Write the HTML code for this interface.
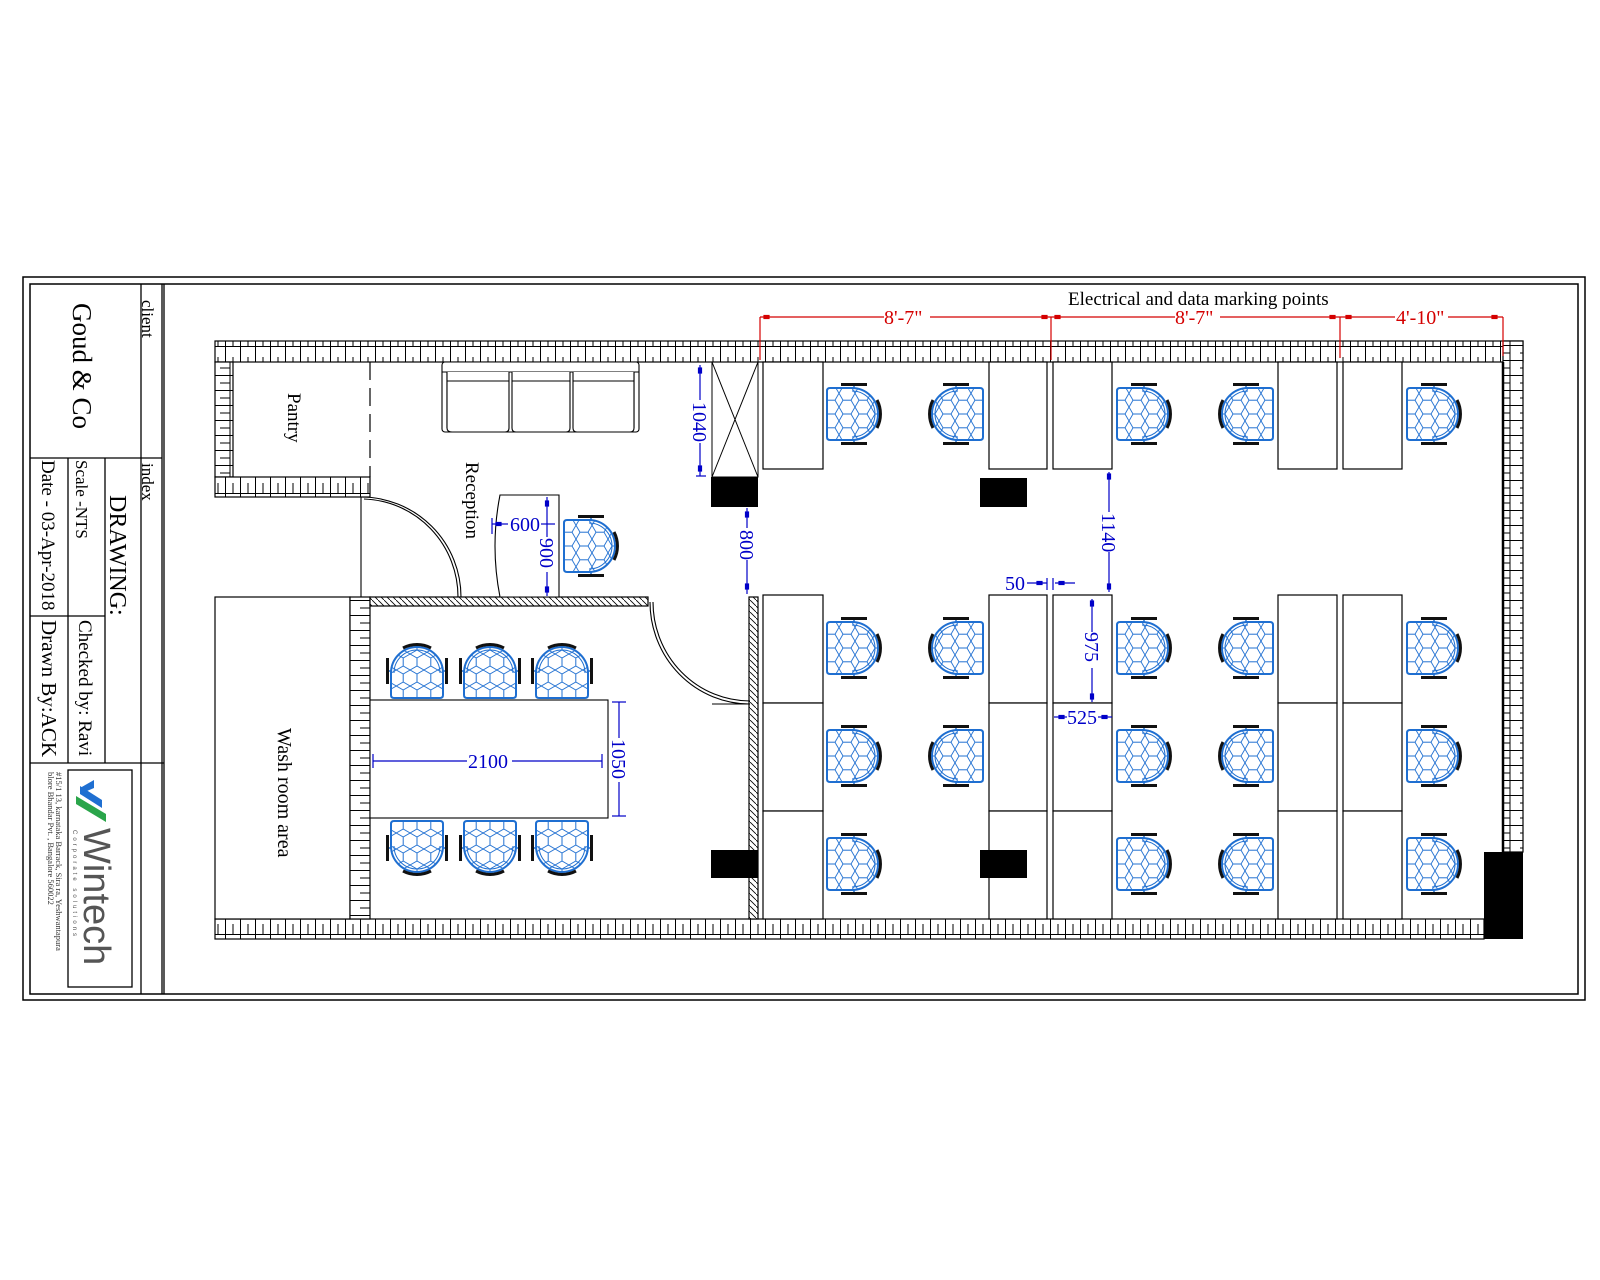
<!DOCTYPE html>
<html><head><meta charset="utf-8"><style>
html,body{margin:0;padding:0;background:#fff;}
svg{display:block;}
text{font-family:"Liberation Serif",serif;}
</style></head><body>
<svg width="1600" height="1280" viewBox="0 0 1600 1280" xmlns="http://www.w3.org/2000/svg">
<defs>
<pattern id="brickH" width="15" height="21" patternUnits="userSpaceOnUse">
<rect width="15" height="21" fill="#fff"/>
<line x1="0.5" y1="0" x2="0.5" y2="21" stroke="#000" stroke-width="1"/>
<line x1="8" y1="0" x2="8" y2="10.5" stroke="#000" stroke-width="1"/>
<line x1="0" y1="10.5" x2="15" y2="10.5" stroke="#000" stroke-width="1"/>
</pattern>
<pattern id="brickV" width="20" height="15" patternUnits="userSpaceOnUse">
<rect width="20" height="15" fill="#fff"/>
<line x1="0" y1="0.5" x2="20" y2="0.5" stroke="#000" stroke-width="1"/>
<line x1="10" y1="0" x2="10" y2="15" stroke="#000" stroke-width="1"/>
<line x1="0" y1="8" x2="10" y2="8" stroke="#000" stroke-width="1"/>
</pattern>
<pattern id="hatch" width="6" height="6" patternUnits="userSpaceOnUse">
<rect width="6" height="6" fill="#fff"/>
<line x1="0" y1="0" x2="6" y2="6" stroke="#000" stroke-width="0.8"/>
</pattern>
<pattern id="hex" width="16" height="13.8" patternUnits="userSpaceOnUse">
<rect width="16" height="13.8" fill="#fff"/>
<path d="M0,6.9 L4,0 L12,0 L16,6.9 L12,13.8 L4,13.8 Z" fill="none" stroke="#1f6fd1" stroke-width="0.9"/>
</pattern>
<g id="chair">
<rect x="-14" y="-31" width="26" height="3" fill="#111"/>
<rect x="-14" y="28" width="26" height="3" fill="#111"/>
<line x1="-1" y1="-28" x2="-1" y2="-26" stroke="#1f6fd1" stroke-width="1.5"/>
<line x1="-1" y1="28" x2="-1" y2="26" stroke="#1f6fd1" stroke-width="1.5"/>
<path d="M-25,-26 H-3 A26 26 0 0 1 -3,26 H-25 Q-28,26 -28,23 V-23 Q-28,-26 -25,-26 Z" fill="url(#hex)" stroke="#1f6fd1" stroke-width="2"/>
<path d="M-3,-23 A23 23 0 0 1 -3,23" fill="none" stroke="#1f6fd1" stroke-width="1"/>
<path d="M22,-14 A30 30 0 0 1 22,14" fill="none" stroke="#111" stroke-width="3"/>
</g>
</defs>

<rect x="23" y="277" width="1562" height="723" fill="none" stroke="#000" stroke-width="1.5"/>
<rect x="30" y="284" width="1548" height="710" fill="none" stroke="#000" stroke-width="1.5"/>

<g stroke="#000" stroke-width="1.3" fill="none">
<line x1="141" y1="284" x2="141" y2="994"/>
<line x1="162" y1="284" x2="162" y2="994"/>
<line x1="164" y1="284" x2="164" y2="994"/>
<line x1="30" y1="458" x2="162" y2="458"/>
<line x1="68" y1="458" x2="68" y2="763"/>
<line x1="105" y1="458" x2="105" y2="763"/>
<line x1="30" y1="616" x2="105" y2="616"/>
<line x1="30" y1="763" x2="164" y2="763"/>
<rect x="68" y="770" width="64" height="217"/>
</g>
<g fill="#000">
<text transform="translate(142,300) rotate(90)" font-size="17">client</text>
<text transform="translate(142,463) rotate(90)" font-size="17">index</text>
<text transform="translate(73,303) rotate(90)" font-size="27">Goud &amp; Co</text>
<text transform="translate(110,495) rotate(90)" font-size="24">DRAWING:</text>
<text transform="translate(76,460) rotate(90)" font-size="17">Scale -NTS</text>
<text transform="translate(42,460) rotate(90)" font-size="19">Date - 03-Apr-2018</text>
<text transform="translate(79,620) rotate(90)" font-size="19">Checked by: Ravi</text>
<text transform="translate(42,620) rotate(90)" font-size="21">Drawn By:ACK</text>
<text transform="translate(56,772) rotate(90)" font-size="8.5" fill="#333">#15/1 13, karnataka Barrack, Sira ra, Yeshwantapura</text>
<text transform="translate(48,772) rotate(90)" font-size="8.5" fill="#333">blore Bhandar Pvt. , Bangalore 560022</text>
</g>
<g transform="translate(100,786) rotate(90)">
<path d="M0,20 L14,-2 L22,-2 L8,20 Z" fill="#1f6fd1"/>
<path d="M10,24 L28,-6 L36,-6 L18,24 Z" fill="#2aa54a"/>
<path d="M-6,6 L2,6 L8,20 L2,20 Z" fill="#1f6fd1"/>
<text x="42" y="16" font-size="38" fill="#555" style="font-family:'Liberation Sans',sans-serif">Wintech</text>
<text x="44" y="27" font-size="6" fill="#555" letter-spacing="3" style="font-family:'Liberation Sans',sans-serif">Corporate solutions</text>
</g>

<rect x="215" y="341" width="1308" height="21" fill="url(#brickH)" stroke="#000" stroke-width="1.2"/>
<rect x="215" y="362" width="18" height="115" fill="url(#brickV)" stroke="#000" stroke-width="1.2"/>
<rect x="215" y="477" width="155" height="20" fill="url(#brickH)" stroke="#000" stroke-width="1.2"/>
<rect x="215" y="919" width="1269" height="20" fill="url(#brickH)" stroke="#000" stroke-width="1.2"/>
<rect x="1503" y="341" width="20" height="511" fill="url(#brickV)" stroke="#000" stroke-width="1.2"/>
<line x1="1503" y1="362" x2="1503" y2="852" stroke="#000" stroke-width="2.5"/>
<rect x="1484" y="852" width="39" height="87" fill="#000"/>
<rect x="215" y="597" width="135" height="322" fill="#fff" stroke="#000" stroke-width="1.2"/>
<rect x="350" y="597" width="20" height="322" fill="url(#brickV)" stroke="#000" stroke-width="1.2"/>
<rect x="370" y="597" width="278" height="9" fill="url(#hatch)" stroke="#000" stroke-width="1.2"/>
<rect x="749" y="597" width="9" height="322" fill="url(#hatch)" stroke="#000" stroke-width="1.2"/>

<line x1="370" y1="362" x2="370" y2="477" stroke="#000" stroke-width="1.2" stroke-dasharray="18,8"/>
<text transform="translate(288,393) rotate(90)" font-size="19">Pantry</text>
<text transform="translate(278,728) rotate(90)" font-size="20">Wash room area</text>

<g stroke="#000" fill="none" stroke-width="1.1">
<line x1="361" y1="497" x2="361" y2="597"/>
<line x1="361" y1="597" x2="500" y2="597"/>
<path d="M361,497 A100 100 0 0 1 461,597"/>
<path d="M364,499 A97 98 0 0 1 458,597"/>
</g>

<g stroke="#000" fill="#fff" stroke-width="1.1">
<rect x="442" y="362" width="197" height="70" rx="3"/>
<line x1="442" y1="372" x2="639" y2="372"/>
<line x1="447" y1="372" x2="447" y2="428"/>
<line x1="634" y1="372" x2="634" y2="428"/>
<path d="M447,372 V428 Q447,432 452,432 H505 Q509,432 509,428 V372" />
<path d="M512,372 V428 Q512,432 516,432 H566 Q570,432 570,428 V372"/>
<path d="M573,372 V428 Q573,432 577,432 H630 Q634,432 634,428 V372"/>
<line x1="447" y1="381" x2="509" y2="381"/>
<line x1="512" y1="381" x2="570" y2="381"/>
<line x1="573" y1="381" x2="634" y2="381"/>
</g>
<text transform="translate(466,462) rotate(90)" font-size="19">Reception</text>

<path d="M500,495 H559 V597 H500 Q490,546 500,495 Z" fill="#fff" stroke="#000" stroke-width="1.1"/>

<g stroke="#000" stroke-width="1" fill="none">
<rect x="712" y="362" width="46" height="115"/>
<line x1="712" y1="362" x2="758" y2="477"/>
<line x1="758" y1="362" x2="712" y2="477"/>
</g>
<rect x="711" y="477" width="47" height="30" fill="#000"/>
<rect x="980" y="478" width="47" height="29" fill="#000"/>

<rect x="370" y="700" width="238" height="118" fill="#fff" stroke="#000" stroke-width="1.1"/>
<g stroke="#000" fill="none" stroke-width="1.1">
<path d="M650,602 A100 102 0 0 0 750,704"/>
<path d="M653,602 A97 99 0 0 0 750,701"/>
<line x1="712" y1="704" x2="750" y2="704"/>
</g>

<g stroke="#000" fill="#fff" stroke-width="1.2">
<rect x="763" y="362" width="60" height="107"/>
<rect x="989" y="362" width="58" height="107"/>
<rect x="1053" y="362" width="59" height="107"/>
<rect x="1278" y="362" width="59" height="107"/>
<rect x="1343" y="362" width="59" height="107"/>
<rect x="763" y="595" width="60" height="108"/><rect x="763" y="703" width="60" height="108"/><rect x="763" y="811" width="60" height="108"/>
<rect x="989" y="595" width="58" height="108"/><rect x="989" y="703" width="58" height="108"/><rect x="989" y="811" width="58" height="108"/>
<rect x="1053" y="595" width="59" height="108"/><rect x="1053" y="703" width="59" height="108"/><rect x="1053" y="811" width="59" height="108"/>
<rect x="1278" y="595" width="59" height="108"/><rect x="1278" y="703" width="59" height="108"/><rect x="1278" y="811" width="59" height="108"/>
<rect x="1343" y="595" width="59" height="108"/><rect x="1343" y="703" width="59" height="108"/><rect x="1343" y="811" width="59" height="108"/>
</g>
<rect x="711" y="850" width="47" height="28" fill="#000"/>
<rect x="980" y="850" width="47" height="28" fill="#000"/>

<use href="#chair" transform="translate(855,414)"/>
<use href="#chair" transform="translate(955,414) rotate(180)"/>
<use href="#chair" transform="translate(1145,414)"/>
<use href="#chair" transform="translate(1245,414) rotate(180)"/>
<use href="#chair" transform="translate(1435,414)"/>
<use href="#chair" transform="translate(855,648)"/>
<use href="#chair" transform="translate(955,648) rotate(180)"/>
<use href="#chair" transform="translate(1145,648)"/>
<use href="#chair" transform="translate(1245,648) rotate(180)"/>
<use href="#chair" transform="translate(1435,648)"/>
<use href="#chair" transform="translate(855,756)"/>
<use href="#chair" transform="translate(955,756) rotate(180)"/>
<use href="#chair" transform="translate(1145,756)"/>
<use href="#chair" transform="translate(1245,756) rotate(180)"/>
<use href="#chair" transform="translate(1435,756)"/>
<use href="#chair" transform="translate(855,864)"/>
<use href="#chair" transform="translate(1145,864)"/>
<use href="#chair" transform="translate(1245,864) rotate(180)"/>
<use href="#chair" transform="translate(1435,864)"/>
<use href="#chair" transform="translate(592,546)"/>
<use href="#chair" transform="translate(417,670) rotate(-90)"/>
<use href="#chair" transform="translate(490,670) rotate(-90)"/>
<use href="#chair" transform="translate(562,670) rotate(-90)"/>
<use href="#chair" transform="translate(417,849) rotate(90)"/>
<use href="#chair" transform="translate(490,849) rotate(90)"/>
<use href="#chair" transform="translate(562,849) rotate(90)"/>

<g stroke="#0000c8" stroke-width="1.2" fill="#0000c8">
<line x1="700" y1="365" x2="700" y2="400"/><line x1="700" y1="443" x2="700" y2="476"/>
<line x1="696" y1="476" x2="706" y2="476"/>
<rect x="698.5" y="368" width="3" height="5"/><rect x="698.5" y="466" width="3" height="5"/>
<line x1="747" y1="508" x2="747" y2="528"/><line x1="747" y1="560" x2="747" y2="594"/>
<rect x="745.5" y="512" width="3" height="5"/><rect x="745.5" y="584" width="3" height="5"/>
<line x1="492" y1="524" x2="508" y2="524"/><line x1="541" y1="524" x2="555" y2="524"/>
<line x1="492" y1="518" x2="492" y2="534"/>
<rect x="496" y="522.5" width="5" height="3"/>
<line x1="547" y1="497" x2="547" y2="537"/><line x1="547" y1="572" x2="547" y2="596"/>
<rect x="545.5" y="501" width="3" height="5"/><rect x="545.5" y="587" width="3" height="5"/>
<line x1="1109" y1="472" x2="1109" y2="512"/><line x1="1109" y1="552" x2="1109" y2="592"/>
<rect x="1107.5" y="474" width="3" height="5"/><rect x="1107.5" y="584" width="3" height="5"/>
<line x1="1092" y1="599" x2="1092" y2="632"/><line x1="1092" y1="668" x2="1092" y2="702"/>
<rect x="1090.5" y="601" width="3" height="5"/><rect x="1090.5" y="694" width="3" height="5"/>
<line x1="1054" y1="717" x2="1067" y2="717"/><line x1="1098" y1="717" x2="1112" y2="717"/>
<rect x="1059" y="715.5" width="5" height="3"/><rect x="1102" y="715.5" width="5" height="3"/>
<line x1="1027" y1="583" x2="1047" y2="583"/><line x1="1055" y1="583" x2="1075" y2="583"/>
<line x1="1047" y1="578" x2="1047" y2="590"/><line x1="1053" y1="578" x2="1053" y2="590"/>
<rect x="1037" y="581.5" width="5" height="3"/><rect x="1059" y="581.5" width="5" height="3"/>
<line x1="373" y1="761" x2="467" y2="761"/><line x1="512" y1="761" x2="602" y2="761"/>
<line x1="373" y1="754" x2="373" y2="768"/><line x1="602" y1="754" x2="602" y2="768"/>
<line x1="619" y1="702" x2="619" y2="738"/><line x1="619" y1="782" x2="619" y2="816"/>
<line x1="612" y1="702" x2="626" y2="702"/><line x1="612" y1="816" x2="626" y2="816"/>
</g>
<g fill="#0000c8" font-size="20">
<text transform="translate(693,402) rotate(90)">1040</text>
<text transform="translate(740,530) rotate(90)">800</text>
<text x="510" y="531">600</text>
<text transform="translate(540,538) rotate(90)">900</text>
<text transform="translate(1102,513) rotate(90)">1140</text>
<text transform="translate(1085,632) rotate(90)">975</text>
<text x="1067" y="724">525</text>
<text x="1005" y="590">50</text>
<text x="468" y="768">2100</text>
<text transform="translate(612,739) rotate(90)">1050</text>
</g>

<g stroke="#d40000" stroke-width="1.2" fill="#d40000">
<line x1="760" y1="317" x2="884" y2="317"/><line x1="930" y1="317" x2="1051" y2="317"/>
<line x1="1051" y1="317" x2="1175" y2="317"/><line x1="1220" y1="317" x2="1340" y2="317"/>
<line x1="1340" y1="317" x2="1395" y2="317"/><line x1="1448" y1="317" x2="1503" y2="317"/>
<line x1="760" y1="317" x2="760" y2="360"/>
<line x1="1051" y1="317" x2="1051" y2="360"/>
<line x1="1340" y1="317" x2="1340" y2="358"/>
<line x1="1503" y1="317" x2="1503" y2="356"/>
<rect x="764" y="315.5" width="5" height="3"/><rect x="1042" y="315.5" width="5" height="3"/>
<rect x="1055" y="315.5" width="5" height="3"/><rect x="1330" y="315.5" width="5" height="3"/>
<rect x="1346" y="315.5" width="5" height="3"/><rect x="1492" y="315.5" width="5" height="3"/>
</g>
<g fill="#d40000" font-size="20">
<text x="884" y="324">8'-7"</text>
<text x="1175" y="324">8'-7"</text>
<text x="1396" y="324">4'-10"</text>
</g>
<text x="1068" y="305" font-size="19" fill="#000">Electrical and data marking points</text>
</svg>
</body></html>
